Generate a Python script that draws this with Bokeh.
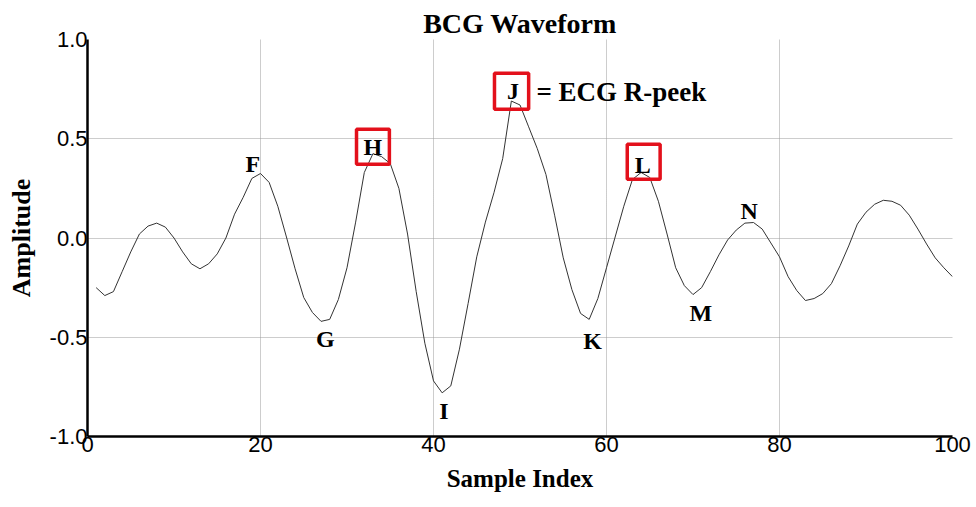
from bokeh.plotting import figure
from bokeh.models import Range1d, FixedTicker, PrintfTickFormatter, ColumnDataSource, Label
from bokeh.core.properties import value
from bokeh.embed import file_html
from bokeh.resources import INLINE

sample_index = list(range(1, 101))
amplitude = [
    -0.25, -0.29, -0.27, -0.17, -0.07, 0.02, 0.06, 0.075, 0.055, 0.00,
    -0.07, -0.13, -0.155, -0.13, -0.08, 0.00, 0.12, 0.205, 0.30, 0.325,
    0.28, 0.16, 0.005, -0.155, -0.30, -0.375, -0.42, -0.41, -0.31, -0.15,
    0.08, 0.33, 0.425, 0.41, 0.375, 0.25, 0.02, -0.27, -0.53, -0.72,
    -0.78, -0.745, -0.56, -0.33, -0.095, 0.08, 0.23, 0.40, 0.69, 0.67,
    0.56, 0.45, 0.32, 0.115, -0.10, -0.26, -0.38, -0.41, -0.305, -0.15,
    0.005, 0.16, 0.295, 0.33, 0.305, 0.185, 0.02, -0.15, -0.24, -0.285,
    -0.25, -0.17, -0.085, -0.01, 0.04, 0.075, 0.078, 0.045, -0.025, -0.095,
    -0.195, -0.265, -0.315, -0.305, -0.28, -0.23, -0.14, -0.04, 0.07, 0.13,
    0.17, 0.19, 0.185, 0.165, 0.115, 0.045, -0.03, -0.10, -0.15, -0.195,
]

x_ticks = [0, 20, 40, 60, 80, 100]
y_ticks = [-1.0, -0.5, 0.0, 0.5, 1.0]

peak_letters = ["F", "G", "H", "I", "J", "K", "L", "M", "N"]
peak_x = [19.1, 27.5, 33.0, 41.2, 49.2, 58.4, 64.2, 70.9, 76.5]
peak_y = [0.372, -0.51, 0.457, -0.87, 0.739, -0.52, 0.37, -0.38, 0.136]

box_left = [31.1, 47.05, 62.4]
box_right = [34.9, 51.0, 66.2]
box_bottom = [0.372, 0.648, 0.296]
box_top = [0.548, 0.83, 0.472]

title_text = "BCG Waveform"
x_title = "Sample Index"
y_title = "Amplitude"
note_text = "= ECG R-peek"
note_x = 51.9
note_y = 0.734

serif = "Liberation Serif"
sans = "Liberation Sans"

p = figure(width=976, height=507, output_backend="svg", toolbar_location=None,
           x_range=Range1d(0, 100), y_range=Range1d(-1, 1),
           min_border_left=87, min_border_right=24, min_border_top=39, min_border_bottom=71)
p.outline_line_color = None
p.background_fill_color = "white"
p.border_fill_color = "white"

p.title.text = title_text
p.title.align = "center"
p.title.offset = 4
p.title.standoff = 2
p.title.text_font = serif
p.title.text_font_style = "bold"
p.title.text_font_size = "28px"
p.title.text_color = "black"

# grid
p.xgrid.ticker = FixedTicker(ticks=[20, 40, 60, 80])
p.ygrid.ticker = FixedTicker(ticks=[-0.5, 0.0, 0.5])
for g in (p.xgrid, p.ygrid):
    g.grid_line_color = "#9a9a9a"
    g.grid_line_dash = "1 1"
    g.grid_line_width = 1

# axes
p.xaxis.ticker = FixedTicker(ticks=x_ticks)
p.yaxis.ticker = FixedTicker(ticks=y_ticks)
p.xaxis.formatter = PrintfTickFormatter(format="%d")
p.yaxis.formatter = PrintfTickFormatter(format="%.1f")
for ax in (p.xaxis, p.yaxis):
    ax.axis_line_width = 2.5
    ax.axis_line_color = "black"
    ax.major_tick_line_color = None
    ax.minor_tick_line_color = None
    ax.major_tick_out = 0
    ax.major_tick_in = 0
    ax.major_label_text_font = sans
    ax.major_label_text_font_size = "22px"
    ax.major_label_text_color = "black"
    ax.axis_label_text_font = serif
    ax.axis_label_text_font_style = "bold"
    ax.axis_label_text_color = "black"
p.xaxis.axis_label = x_title
p.yaxis.axis_label = y_title
p.xaxis.axis_label_text_font_size = "25px"
p.yaxis.axis_label_text_font_size = "26px"
p.xaxis.major_label_standoff = 0
p.yaxis.major_label_standoff = 0
p.xaxis.axis_label_standoff = 10
p.yaxis.axis_label_standoff = 11

# waveform
p.line(sample_index, amplitude, line_color="#333333", line_width=1)

# red boxes
p.quad(left=box_left, right=box_right, bottom=box_bottom, top=box_top,
       fill_color=None, line_color="#e3101b", line_width=3.5)

# peak letters
src = ColumnDataSource(dict(x=peak_x, y=peak_y, t=peak_letters))
p.text(x="x", y="y", text="t", source=src, text_font=value(serif),
       text_font_style="bold", text_font_size="24px", text_align="center",
       text_baseline="middle", text_color="black")

p.add_layout(Label(x=note_x, y=note_y, text=note_text, text_font=serif,
                   text_font_style="bold", text_font_size="27px",
                   text_align="left", text_baseline="middle", text_color="black"))

open("out.html", "w").write(file_html(p, INLINE))
